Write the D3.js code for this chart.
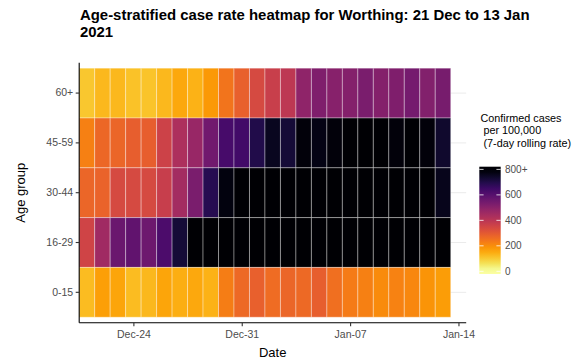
<!DOCTYPE html>
<html>
<head>
<meta charset="utf-8">
<script src="https://cdn.jsdelivr.net/npm/d3@7"></script>
<style>
  html, body { margin: 0; padding: 0; background: #fff; }
  svg { display: block; font-family: "Liberation Sans", Arial, sans-serif; }
</style>
</head>
<body>
<svg id="chart" width="586" height="362"></svg>
<script>
// ---------------- DATA ----------------
const startDate = "2020-12-21";
const nDays = 24;
const ageGroups = ["60+", "45-59", "30-44", "16-29", "0-15"];
const rate60plus = [105,130,130,115,110,130,155,140,180,245,285,340,370,395,490,520,505,510,530,510,520,540,515,535];
const rate45to59 = [225,270,275,290,290,360,430,470,550,630,640,700,755,725,785,770,785,810,830,850,785,820,785,735];
const rate30to44 = [275,280,340,340,340,375,450,530,690,780,840,880,900,920,950,930,960,940,920,900,880,870,850,760];
const rate16to29 = [355,455,560,580,555,620,725,860,920,980,1020,1050,1100,1080,1060,1040,1020,990,960,940,920,900,880,860];
const rate0to15  = [125,170,160,125,130,160,145,155,140,230,268,285,262,275,268,290,255,232,225,205,220,210,190,172];
const xTickLabels = ["2020-12-24", "2020-12-31", "2021-01-07", "2021-01-14"];
const legendBreaks = [0, 200, 400, 600, 800];
const legendLabels = ["0", "200", "400", "600", "800+"];
const titleLines = ["Age-stratified case rate heatmap for Worthing: 21 Dec to 13 Jan", "2021"];
const legendTitleLines = ["Confirmed cases", " per 100,000", " (7-day rolling rate)"];

// ---------------- BUILD ----------------
const parse = d3.utcParse("%Y-%m-%d");
const day = 24 * 3600 * 1000;
const d0 = parse(startDate);
const dates = d3.range(nDays).map(i => new Date(d0.getTime() + i * day));
const seriesByGroup = {
  "60+": rate60plus, "45-59": rate45to59, "30-44": rate30to44,
  "16-29": rate16to29, "0-15": rate0to15
};
const cells = [];
ageGroups.forEach(g => seriesByGroup[g].forEach((v, i) => cells.push({group: g, date: dates[i], value: v})));

const svg = d3.select("#chart");
const panel = {left: 79.2, right: 466.2, top: 62.7, bottom: 322.7};

const x = d3.scaleUtc()
  .domain([new Date(d0.getTime() - day / 2), new Date(d0.getTime() + (nDays + 0.5) * day)])
  .range([panel.left, panel.right]);
const y = d3.scaleBand().domain(ageGroups).range([panel.top, panel.bottom])
  .paddingInner(0).paddingOuter(0.11);
const color = d3.scaleSequential(t => d3.interpolateInferno(1 - t)).domain([0, 800]).clamp(true);

// grid lines (horizontal at band centers)
svg.append("g").selectAll("line").data(ageGroups).join("line")
  .attr("x1", panel.left).attr("x2", panel.right)
  .attr("y1", d => y(d) + y.bandwidth() / 2).attr("y2", d => y(d) + y.bandwidth() / 2)
  .attr("stroke", "#ebebeb").attr("stroke-width", 1);

// tiles
const tileW = x(new Date(d0.getTime() + day)) - x(d0);
svg.append("g").selectAll("rect").data(cells).join("rect")
  .attr("x", d => x(d.date) - tileW / 2)
  .attr("y", d => y(d.group))
  .attr("width", tileW)
  .attr("height", y.bandwidth())
  .attr("fill", d => color(d.value))
  .attr("stroke", "rgba(255,255,255,0.35)")
  .attr("stroke-width", 1);

// axes
const fmt = d3.utcFormat("%b-%d");
const xAxis = svg.append("g").attr("transform", `translate(0,${panel.bottom})`)
  .call(d3.axisBottom(x).tickValues(xTickLabels.map(parse)).tickFormat(fmt).tickSize(3.5).tickSizeOuter(0));
const yAxis = svg.append("g").attr("transform", `translate(${panel.left},0)`)
  .call(d3.axisLeft(y).tickSize(3.5).tickSizeOuter(0).tickPadding(2.5));
[xAxis, yAxis].forEach(a => {
  a.select(".domain").attr("stroke", "#000").attr("stroke-width", 1.1);
  a.selectAll(".tick line").attr("stroke", "#333").attr("stroke-width", 1.1);
  a.selectAll(".tick text").attr("fill", "#4d4d4d").style("font-size", "10.5px")
    .style("font-family", "'Liberation Sans', Arial, sans-serif");
});
xAxis.selectAll(".tick text").attr("dy", null).attr("y", 15);
xAxis.select(".domain").attr("d", `M${panel.left},0H${panel.right}`);
yAxis.select(".domain").attr("d", `M0,${panel.top}V${panel.bottom}`);

// axis titles
svg.append("text").attr("x", (panel.left + panel.right) / 2).attr("y", 357)
  .attr("text-anchor", "middle").style("font-size", "13px").attr("fill", "#000").text("Date");
svg.append("text").attr("transform", `translate(24.5,${(panel.top + panel.bottom) / 2}) rotate(-90)`)
  .attr("text-anchor", "middle").style("font-size", "13px").attr("fill", "#000").text("Age group");

// title (fit first line to measured width)
const t1 = svg.append("text").attr("x", 80).attr("y", 20)
  .style("font-size", "14px").style("font-weight", "bold").attr("fill", "#000").text(titleLines[0]);
const w = t1.node().getComputedTextLength();
const fs = 14 * 450 / w;
t1.style("font-size", fs + "px");
svg.append("text").attr("x", 80).attr("y", 20 + fs * 1.13)
  .style("font-size", fs + "px").style("font-weight", "bold").attr("fill", "#000").text(titleLines[1]);

// legend
const lg = svg.append("g");
lg.selectAll("text.lt").data(legendTitleLines).join("text").attr("class", "lt")
  .attr("x", 480.5).attr("y", (d, i) => 121.5 + i * 12.5)
  .style("font-size", "10.8px").style("white-space", "pre").attr("xml:space", "preserve")
  .attr("fill", "#000").text(d => d);

const ly = d3.scaleLinear().domain([0, 800]).range([271.3, 169.4]);
const barTop = 166.7, barBot = 274, barX = 479.3, barW = 21.4;
const defs = svg.append("defs");
const grad = defs.append("linearGradient").attr("id", "cbar")
  .attr("x1", 0).attr("y1", 1).attr("x2", 0).attr("y2", 0);
d3.range(0, 1.0001, 0.05).forEach(t => {
  const yy = barBot - t * (barBot - barTop);
  grad.append("stop").attr("offset", t).attr("stop-color", color(ly.invert(yy)));
});
lg.append("rect").attr("x", barX).attr("y", barTop).attr("width", barW).attr("height", barBot - barTop)
  .attr("fill", "url(#cbar)");
lg.selectAll("line.tk").data(legendBreaks).join("line").attr("class", "tk")
  .attr("x1", barX).attr("x2", barX + barW / 5).attr("y1", d => ly(d)).attr("y2", d => ly(d))
  .attr("stroke", "#fff").attr("stroke-width", 0.8);
lg.selectAll("line.tk2").data(legendBreaks).join("line").attr("class", "tk2")
  .attr("x1", barX + barW * 4 / 5).attr("x2", barX + barW).attr("y1", d => ly(d)).attr("y2", d => ly(d))
  .attr("stroke", "#fff").attr("stroke-width", 0.8);
lg.selectAll("text.ll").data(legendBreaks).join("text").attr("class", "ll")
  .attr("x", 505).attr("y", d => ly(d)).attr("dy", "0.35em")
  .style("font-size", "10px").attr("fill", "#4d4d4d").text((d, i) => legendLabels[i]);
</script>
</body>
</html>
